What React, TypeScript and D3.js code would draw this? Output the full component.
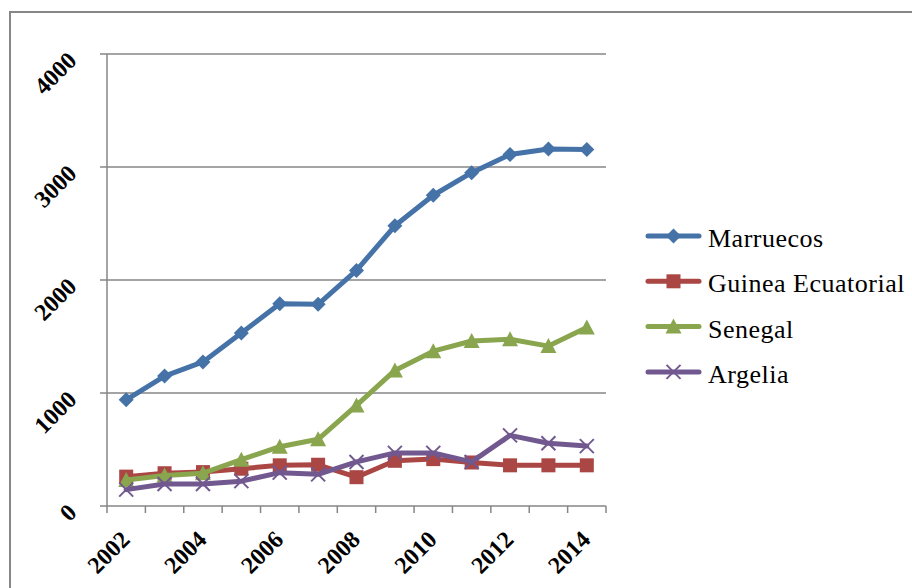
import React from "react";
import * as d3 from "d3";

const years = [2002, 2003, 2004, 2005, 2006, 2007, 2008, 2009, 2010, 2011, 2012, 2013, 2014];
const yTicks = [0, 1000, 2000, 3000, 4000];
const xLabelYears = [2002, 2004, 2006, 2008, 2010, 2012, 2014];

const marruecos = [940, 1150, 1275, 1530, 1790, 1785, 2085, 2480, 2750, 2950, 3110, 3160, 3155];
const guinea = [260, 290, 300, 330, 360, 365, 255, 400, 415, 385, 360, 360, 360];
const senegal = [230, 270, 290, 410, 525, 590, 890, 1200, 1370, 1460, 1475, 1415, 1580];
const argelia = [145, 195, 195, 220, 295, 280, 390, 470, 470, 390, 625, 555, 530];

const seriesNames = ["Marruecos", "Guinea Ecuatorial", "Senegal", "Argelia"];
const seriesValues = [marruecos, guinea, senegal, argelia];
const seriesColors = ["#4572A7", "#AA4643", "#89A54E", "#71588F"];
const seriesMarkers = ["diamond", "square", "triangle", "x"];

const left = 107, right = 606, top = 54, bottom = 506;
const grid = "#868686";
const FONT = "Liberation Serif, Tinos, Times New Roman, serif";

function Marker({ type, x, y, color }: { type: string; x: number; y: number; color: string }) {
  if (type === "diamond") {
    const r = 7.5;
    return <path d={`M${x},${y - r}L${x + r},${y}L${x},${y + r}L${x - r},${y}Z`} fill={color} />;
  }
  if (type === "square") {
    const s = 14;
    return <rect x={x - s / 2} y={y - s / 2} width={s} height={s} fill={color} />;
  }
  if (type === "triangle") {
    const w = 16, h = 14;
    return <path d={`M${x},${y - h / 2 - 1}L${x + w / 2},${y + h / 2}L${x - w / 2},${y + h / 2}Z`} fill={color} />;
  }
  const r = 7;
  return (
    <g stroke={color} strokeWidth={2}>
      <line x1={x - r} y1={y - r} x2={x + r} y2={y + r} />
      <line x1={x - r} y1={y + r} x2={x + r} y2={y - r} />
    </g>
  );
}

export default function App() {
  const x = d3.scaleBand<number>().domain(years).range([left, right]).padding(0);
  const y = d3.scaleLinear().domain([0, 4000]).range([bottom, top]);
  const cx = (yr: number) => (x(yr) as number) + x.bandwidth() / 2;
  const line = d3
    .line<number>()
    .x((_, i) => cx(years[i]))
    .y((v) => y(v));

  const tickXs = years.map((yr) => x(yr) as number).concat([right]);

  return (
    <svg
      width={912}
      height={588}
      fontFamily={FONT}
      style={{ position: "absolute", left: 0, top: 0, background: "#fff" }}
    >
      <rect x={10} y={12} width={1000} height={700} fill="#fff" stroke={grid} strokeWidth={2} />
      {yTicks.map((t) => (
        <line key={t} x1={left - 7} x2={right} y1={y(t)} y2={y(t)} stroke={grid} strokeWidth={1.5} />
      ))}
      <line x1={left} x2={left} y1={top} y2={bottom} stroke={grid} strokeWidth={1.5} />
      {tickXs.map((tx, i) => (
        <line key={i} x1={tx} x2={tx} y1={bottom} y2={bottom + 7} stroke={grid} strokeWidth={1.5} />
      ))}
      {yTicks.map((t) => (
        <text
          key={t}
          transform={`translate(${78},${y(t) + 8}) rotate(-45)`}
          textAnchor="end"
          fontFamily={FONT}
          fontSize={24}
          fontWeight="bold"
        >
          {t}
        </text>
      ))}
      {xLabelYears.map((yr) => (
        <text
          key={yr}
          transform={`translate(${cx(yr) + 5},${541}) rotate(-45)`}
          textAnchor="end"
          fontFamily={FONT}
          fontSize={24}
          fontWeight="bold"
        >
          {yr}
        </text>
      ))}
      {seriesValues.map((vals, si) => (
        <g key={si}>
          <path
            d={line(vals) as string}
            fill="none"
            stroke={seriesColors[si]}
            strokeWidth={5}
            strokeLinejoin="round"
            strokeLinecap="round"
          />
          {vals.map((v, i) => (
            <Marker key={i} type={seriesMarkers[si]} x={cx(years[i])} y={y(v)} color={seriesColors[si]} />
          ))}
        </g>
      ))}
      {seriesNames.map((name, si) => {
        const ly = 236 + si * 45.3;
        return (
          <g key={name}>
            <line x1={648} x2={699} y1={ly} y2={ly} stroke={seriesColors[si]} strokeWidth={5} strokeLinecap="round" />
            <Marker type={seriesMarkers[si]} x={673.5} y={ly} color={seriesColors[si]} />
            <text x={708} y={ly + 11} fontFamily={FONT} fontSize={26} letterSpacing={0.5}>
              {name}
            </text>
          </g>
        );
      })}
    </svg>
  );
}
